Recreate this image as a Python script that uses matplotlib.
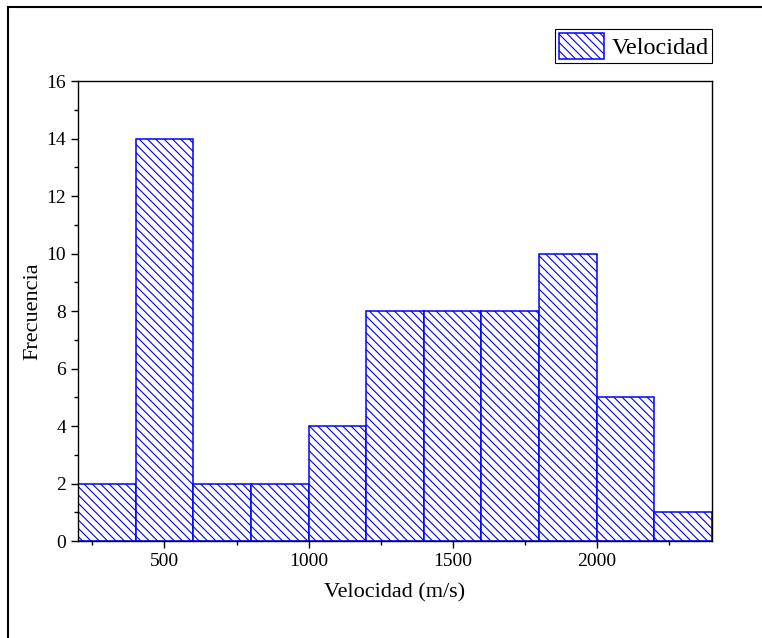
import matplotlib
matplotlib.use('Agg')
import matplotlib.pyplot as plt
from matplotlib.patches import Rectangle
from matplotlib.ticker import MultipleLocator

# Histogram data (bins of 200 m/s)
bin_edges = [200, 400, 600, 800, 1000, 1200, 1400, 1600, 1800, 2000, 2200, 2400]
counts = [2, 14, 2, 2, 4, 8, 8, 8, 10, 5, 1]

plt.rcParams['font.family'] = ['Liberation Serif', 'DejaVu Serif']
plt.rcParams['hatch.linewidth'] = 0.8
plt.rcParams['hatch.color'] = 'blue'

fig = plt.figure(figsize=(7.62, 6.38), dpi=100)
ax = fig.add_axes([0.1024, 0.152, 0.832, 0.721])

# outer frame of the figure
fig.patches.append(Rectangle((8 / 762, -0.1), 1.2, (638 - 7) / 638 + 0.1,
                             transform=fig.transFigure, fill=False,
                             edgecolor='black', linewidth=1.5))

widths = [b - a for a, b in zip(bin_edges[:-1], bin_edges[1:])]
ax.bar(bin_edges[:-1], counts, width=widths, align='edge', facecolor='white',
       edgecolor='blue', linewidth=1.1, hatch='\\\\\\\\', label='Velocidad')

ax.set_xlim(200, 2400)
ax.set_ylim(0, 16)
ax.xaxis.set_major_locator(MultipleLocator(500))
ax.xaxis.set_minor_locator(MultipleLocator(250))
ax.yaxis.set_major_locator(MultipleLocator(2))
ax.yaxis.set_minor_locator(MultipleLocator(1))
ax.tick_params(which='both', direction='out', top=False, right=False, labelsize=14)
ax.tick_params(which='major', length=5, width=1)
ax.tick_params(which='minor', length=3, width=1)
for s in ax.spines.values():
    s.set_linewidth(1)

ax.set_xlabel('Velocidad (m/s)', fontsize=16, labelpad=10)
ax.set_ylabel('Frecuencia', fontsize=16, labelpad=3)

leg = ax.legend(loc='lower right', bbox_to_anchor=(1.0, 1.04), fontsize=17.5,
                fancybox=False, framealpha=1, edgecolor='black',
                handlelength=1.85, handleheight=1.25, handletextpad=0.3,
                borderpad=0.15, borderaxespad=0)
leg.get_frame().set_linewidth(0.8)

fig.savefig('out.png', dpi=100)
